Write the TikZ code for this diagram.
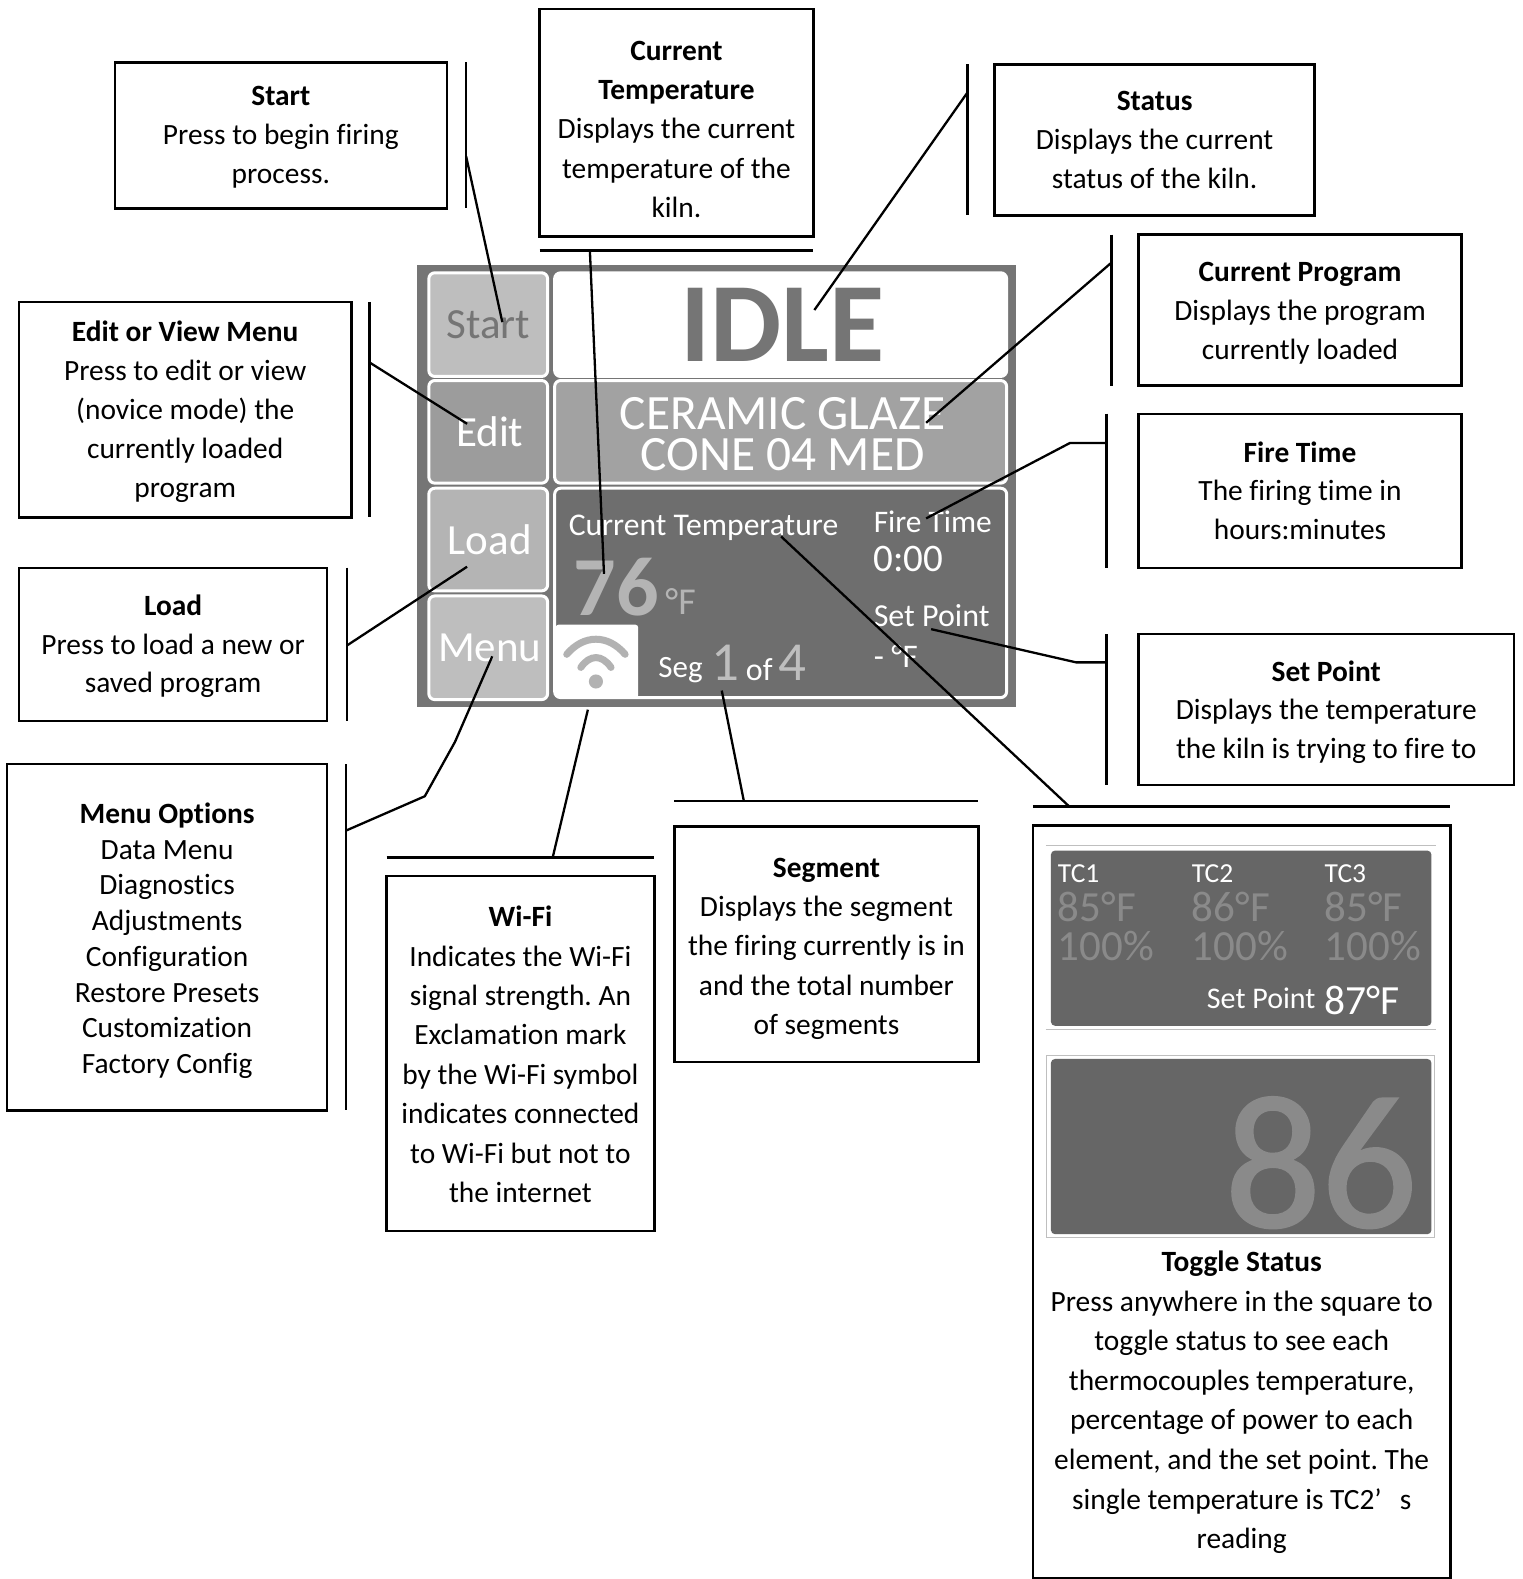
\documentclass[tikz,border=0pt]{standalone}
\usepackage{fontspec}
\setmainfont{Carlito}[RawFeature=-liga]
\newfontfamily\heavydigits{Carlito}[FakeBold=1.2]
\frenchspacing
\definecolor{panelgray}{HTML}{757575}
\definecolor{darkpane}{HTML}{6E6E6E}
\definecolor{lightbtn}{HTML}{BEBEBE}
\definecolor{midbtn}{HTML}{9C9C9C}
\definecolor{loadbtn}{HTML}{B4B4B4}
\definecolor{progpane}{HTML}{A2A2A2}
\definecolor{togglegray}{HTML}{666666}
\definecolor{dimtext}{HTML}{8A8A8A}
\definecolor{wifigray}{HTML}{B2B2B2}
\newcommand{\fs}[2]{\fontsize{#1}{#2}\selectfont}
% [text font] x1 y1 x2 y2 name dy text
\newcommand{\kbox}[8][]{\node[callout,minimum width={(#4-#2)*1.0066pt},minimum height={(#5-#3)*1.0066pt}] (#6) at ({(#2+#4)/2},{(#3+#5)/2}) {};
\node[callouttext,#1] (#6Text) at ({(#2+#4)/2},{(#3+#5)/2+#7}) {#8};}
\newcommand{\btn}[8]{\node[screenbtn,fill=#1,text=#2,minimum width={(#5-#3)*1.0066pt},minimum height={(#6-#4)*1.0066pt}] (#7) at ({(#3+#5)/2},{(#4+#6)/2}) {#8};}
\tikzset{
  callout/.style={draw=black,line width=2.4pt,fill=white,inner sep=0pt,outer sep=0pt},
  callouttext/.style={inner sep=0pt,outer sep=0pt,align=center,text=black,font=\fs{29.4}{38.8}},
  bar/.style={draw=black,line width=2.4pt},
  leader/.style={draw=black,line width=2.3pt},
  screenbtn/.style={draw=white,line width=3pt,rounded corners=6pt,inner sep=0pt,outer sep=0pt,align=center},
  scrtext/.style={inner sep=0pt,outer sep=0pt,text=white,anchor=west},
  togtext/.style={inner sep=0pt,outer sep=0pt,anchor=west},
}
\begin{document}
\begin{tikzpicture}[x=1.0066pt,y=-1.0066pt]
\useasboundingbox (0,0) rectangle (1512,1568.6);
\fill[white] (0,0) rectangle (1512,1568.6);
% ---------- screen panel
\node[fill=panelgray,inner sep=0pt,outer sep=0pt,minimum width={595*1.0066pt},minimum height={439*1.0066pt}] (panel) at (711.5,482.5) {};
\btn{lightbtn}{panelgray}{426}{271}{544}{374}{btnStart}{\fs{43}{46}Start}
\btn{midbtn}{white}{426}{378}{544}{480}{btnEdit}{\fs{43}{46}\hspace*{3pt}Edit}
\btn{loadbtn}{white}{426}{485}{544}{587}{btnLoad}{\fs{43}{46}\hspace*{3pt}Load}
\btn{lightbtn}{white}{426}{592}{544}{695}{btnMenu}{\fs{43}{46}\hspace*{3pt}Menu}
\btn{white}{panelgray}{551}{271}{1000}{374}{paneIdle}{\fs{113}{113}\bfseries\hspace*{3pt}IDLE}
\btn{progpane}{white}{551}{378}{1000}{480}{paneProg}{}
\node[inner sep=0pt,outer sep=0pt,align=center,text=white,font=\fs{49.4}{41.3}] (progName) at (777.5,431) {CERAMIC GLAZE\\CONE 04 MED};
\btn{darkpane}{white}{551}{485}{1000}{693}{paneData}{}
\node[fill=white,rounded corners=3pt,inner sep=0pt,outer sep=0pt,minimum width={82*1.0066pt},minimum height={73*1.0066pt}] (wifiTile) at (593,657) {};
\draw[wifigray,line width=7pt,line cap=round] (563,650) .. controls (580,630) and (604,630) .. (621,650);
\draw[wifigray,line width=7pt,line cap=round] (577,663) .. controls (586,650) and (598,650) .. (607,663);
\fill[wifigray] (592,677) circle (7);
\node[scrtext,font=\fs{31.6}{32}] (lblTemp) at (565,524) {Current Temperature};
\node[scrtext,text=loadbtn,font=\fs{84}{84}\bfseries] (val76) at (570,583) {76};
\node[scrtext,text=loadbtn,font=\fs{38}{38}] (unitF) at (661,598) {°F};
\node[scrtext,font=\fs{31.4}{32}] (lblFire) at (868,518) {Fire Time};
\node[scrtext,font=\fs{39}{40}] (valFire) at (868,555) {0:00};
\node[scrtext,font=\fs{32}{32}] (lblSet) at (868,612) {Set Point};
\node[scrtext,font=\fs{33}{33}] (valSet) at (868,652) {- °F};
\node[scrtext,font=\fs{31}{32}] (lblSeg) at (654,666) {Seg};
\node[scrtext,text=lightbtn,font=\fs{55}{55}] (valSeg) at (707,658) {1};
\node[scrtext,font=\fs{32}{32}] (lblOf) at (741,665) {of};
\node[scrtext,text=lightbtn,font=\fs{55}{55}] (valTot) at (773,658) {4};
% ---------- callout boxes
\kbox{114}{62}{444}{207}{boxStart}{2}{\textbf{Start}\\Press to begin firing\\process.}
\kbox[font=\fs{29.4}{39.2}]{536}{9}{808}{235}{boxTemp}{6.5}{\textbf{Current}\\\textbf{Temperature}\\Displays the current\\temperature of the\\kiln.}
\kbox{988}{64}{1306}{214}{boxStatus}{0}{\textbf{Status}\\Displays the current\\status of the kiln.}
\kbox{1131}{233}{1452}{383}{boxProg}{3}{\textbf{Current Program}\\Displays the program\\currently loaded}
\kbox{1131}{411}{1452}{564}{boxFire}{0}{\textbf{Fire Time}\\The firing time in\\hours:minutes}
\kbox{1131}{630}{1504}{780}{boxSet}{2.5}{\textbf{Set Point}\\Displays the temperature\\the kiln is trying to fire to}
\kbox{19}{300}{349}{514}{boxEdit}{2}{\textbf{Edit or View Menu}\\Press to edit or view\\(novice mode) the\\currently loaded\\program}
\kbox{19}{564}{325}{716}{boxLoad}{2}{\textbf{Load}\\Press to load a new or\\saved program}
\kbox[font=\fs{29.4}{35.7}]{7}{759}{325}{1103}{boxMenu}{3.5}{\textbf{Menu Options}\\Data Menu\\Diagnostics\\Adjustments\\Configuration\\Restore Presets\\Customization\\Factory Config}
\kbox[font=\fs{29.4}{39.4}]{384}{870}{650}{1223}{boxWifi}{1}{\textbf{Wi-Fi}\\Indicates the Wi-Fi\\signal strength. An\\Exclamation mark\\by the Wi-Fi symbol\\indicates connected\\to Wi-Fi but not to\\the internet}
\kbox[font=\fs{29.4}{39.2}]{670}{821}{972}{1055}{boxSeg}{4.5}{\textbf{Segment}\\Displays the segment\\the firing currently is in\\and the total number\\of segments}
\node[callout,minimum width={415*1.0066pt},minimum height={748*1.0066pt}] (boxToggle) at (1233.5,1194) {};
% ---------- toggle status screenshots
\draw[gray!50,line width=0.7pt] (1039,840) -- (1427,840) (1039,1023) -- (1427,1023);
\node[fill=togglegray,rounded corners=4pt,inner sep=0pt,outer sep=0pt,minimum width={378*1.0066pt},minimum height={174*1.0066pt}] (togA) at (1233,932) {};
\node[draw=gray!50,line width=0.7pt,inner sep=0pt,outer sep=0pt,minimum width={386*1.0066pt},minimum height={181*1.0066pt}] (togBframe) at (1232,1138.5) {};
\node[fill=togglegray,rounded corners=4pt,inner sep=0pt,outer sep=0pt,minimum width={378*1.0066pt},minimum height={174*1.0066pt}] (togB) at (1233,1139) {};
\node[togtext,text=white,font=\fs{27.5}{28}] (tc1) at (1051,868) {TC1};
\node[togtext,text=white,font=\fs{27.5}{28}] (tc2) at (1184,868) {TC2};
\node[togtext,text=white,font=\fs{27.5}{28}] (tc3) at (1316,868) {TC3};
\node[togtext,text=dimtext,font=\fs{43}{44}] (t1) at (1051,901) {85°F};
\node[togtext,text=dimtext,font=\fs{43}{44}] (t2) at (1184,901) {86°F};
\node[togtext,text=dimtext,font=\fs{43}{44}] (t3) at (1316,901) {85°F};
\node[togtext,text=dimtext,font=\fs{43}{44}] (p1) at (1051,940) {100\%};
\node[togtext,text=dimtext,font=\fs{43}{44}] (p2) at (1184,940) {100\%};
\node[togtext,text=dimtext,font=\fs{43}{44}] (p3) at (1316,940) {100\%};
\node[togtext,text=white,font=\fs{30}{30}] (togSet) at (1199,992) {Set Point};
\node[togtext,text=white,font=\fs{41.5}{42}] (togSetVal) at (1316,994) {87°F};
\node[inner sep=0pt,outer sep=0pt,anchor=east,text=dimtext,font=\fs{190}{190}\heavydigits] (togBig) at (1408,1155) {86};
\node[inner sep=0pt,align=center,font=\fs{29.4}{39.6}] (txtToggle) at (1233.5,1393) {\textbf{Toggle Status}\\Press anywhere in the square to\\toggle status to see each\\thermocouples temperature,\\percentage of power to each\\element, and the set point. The\\single temperature is TC2’\hspace{18pt}s\\reading};
% ---------- bars beside the boxes
\coordinate (barStartA) at (463,62);   \coordinate (barStartB) at (463,207);
\coordinate (barTempA) at (536,249);   \coordinate (barTempB) at (808,249);
\coordinate (barStatusA) at (961,64);  \coordinate (barStatusB) at (961,214);
\coordinate (barProgA) at (1104,233);  \coordinate (barProgB) at (1104,383);
\coordinate (barFireA) at (1099,411);  \coordinate (barFireB) at (1099,564);
\coordinate (barSetA) at (1099,630);   \coordinate (barSetB) at (1099,780);
\coordinate (barEditA) at (367,300);   \coordinate (barEditB) at (367,514);
\coordinate (barLoadA) at (345,564);   \coordinate (barLoadB) at (345,716);
\coordinate (barMenuA) at (344,759);   \coordinate (barMenuB) at (344,1103);
\coordinate (barWifiA) at (384,852);   \coordinate (barWifiB) at (650,852);
\coordinate (barSegA) at (670,796);    \coordinate (barSegB) at (972,796);
\coordinate (barTogA) at (1026,801);   \coordinate (barTogB) at (1440,801);
\foreach \bn in {Start,Temp,Status,Prog,Fire,Set,Edit,Load,Menu,Wifi,Seg,Tog}{\draw[bar] (bar\bn A) -- (bar\bn B);}
% ---------- leader lines
\coordinate (tapStart) at (463,155);   \coordinate (endStart) at (499,320);
\coordinate (tapTemp) at (586,249);    \coordinate (endTemp) at (600,570);
\coordinate (tapStatus) at (961,92);   \coordinate (endStatus) at (809,308);
\coordinate (tapProg) at (1104,261);   \coordinate (endProg) at (920,420);
\coordinate (tapFire) at (1099,440);   \coordinate (kneeFire) at (1063,440); \coordinate (endFire) at (920,515);
\coordinate (tapSet) at (1099,658);    \coordinate (kneeSet) at (1069,658);  \coordinate (endSet) at (925,625);
\coordinate (tapEdit) at (367,360);    \coordinate (endEdit) at (464,421);
\coordinate (tapLoad) at (345,641);    \coordinate (endLoad) at (464,563);
\coordinate (tapMenu) at (344,825);    \coordinate (kneeMenuA) at (422,791); \coordinate (kneeMenuB) at (452,737); \coordinate (endMenu) at (489,652);
\coordinate (tapWifi) at (549,852);    \coordinate (endWifi) at (584,705);
\coordinate (tapSeg) at (739,796);     \coordinate (endSeg) at (717,686);
\coordinate (tapTog) at (1062,801);    \coordinate (endTog) at (776,533);
\draw[leader] (tapStart) -- (endStart);
\draw[leader] (tapTemp) -- (endTemp);
\draw[leader] (tapStatus) -- (endStatus);
\draw[leader] (tapProg) -- (endProg);
\draw[leader] (tapFire) -- (kneeFire) -- (endFire);
\draw[leader] (tapSet) -- (kneeSet) -- (endSet);
\draw[leader] (tapEdit) -- (endEdit);
\draw[leader] (tapLoad) -- (endLoad);
\draw[leader] (tapMenu) -- (kneeMenuA) -- (kneeMenuB) -- (endMenu);
\draw[leader] (tapWifi) -- (endWifi);
\draw[leader] (tapSeg) -- (endSeg);
\draw[leader] (tapTog) -- (endTog);
\end{tikzpicture}
\end{document}
